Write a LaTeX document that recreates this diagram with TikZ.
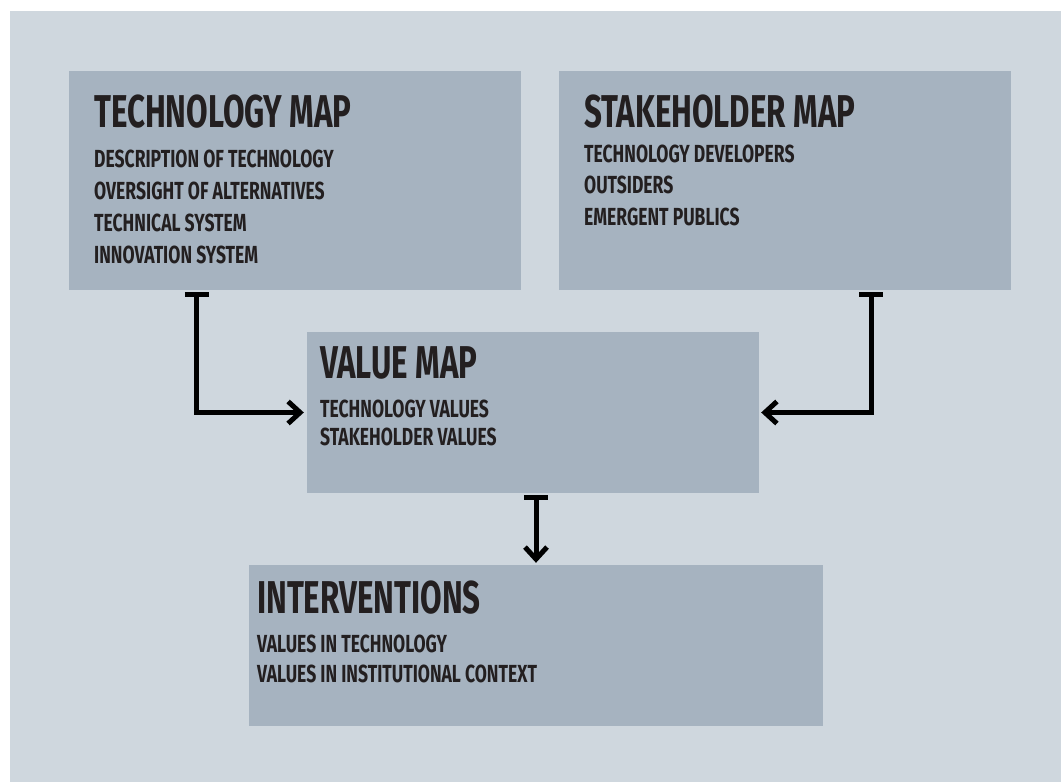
\documentclass[tikz,border=0pt]{standalone}
\usepackage{fontspec}
\usetikzlibrary{arrows.meta}
\newfontfamily\condttl[FakeStretch=0.68]{Fira Sans}
\newfontfamily\conditm[FakeStretch=0.71]{Fira Sans}
\definecolor{bgc}{HTML}{CFD7DE}
\definecolor{boxc}{HTML}{A6B3C0}
\definecolor{txtc}{HTML}{231F20}
\tikzset{
  box/.style={fill=boxc, draw=none, inner sep=0pt},
  ttl/.style={anchor=base west, inner sep=0pt, text=txtc, font=\condttl\bfseries\fontsize{46}{46}\selectfont},
  itm/.style={anchor=base west, inner sep=0pt, text=txtc, font=\conditm\bfseries\fontsize{24.7}{25}\selectfont},
  conn/.style={line width=5pt, draw=black, {Bar[width=24pt]}-{Straight Barb[length=12pt,width=22pt]}}
}
\begin{document}
\begin{tikzpicture}[x=1pt,y=-1pt]
\useasboundingbox (0,0) rectangle (1061,782);
\fill[bgc] (10,11) rectangle (1061,782);
% boxes
\node[box, minimum width=452pt, minimum height=219pt] (tech) at (295,180.5) {};
\node[box, minimum width=452pt, minimum height=219pt] (stake) at (785,180.5) {};
\node[box, minimum width=452pt, minimum height=161pt] (value) at (533,412.5) {};
\node[box, minimum width=574pt, minimum height=161pt] (interv) at (536,645.5) {};
% technology map
\node[ttl] (tt) at (94,127) {TECHNOLOGY MAP};
\node[itm] (t1) at (94,167) {DESCRIPTION OF TECHNOLOGY};
\node[itm] (t2) at (94,199) {OVERSIGHT OF ALTERNATIVES};
\node[itm] (t3) at (94,231) {TECHNICAL SYSTEM};
\node[itm] (t4) at (94,263) {INNOVATION SYSTEM};
% stakeholder map
\node[ttl] (st) at (584,127) {STAKEHOLDER MAP};
\node[itm] (s1) at (584,162) {TECHNOLOGY DEVELOPERS};
\node[itm] (s2) at (584,193) {OUTSIDERS};
\node[itm] (s3) at (584,225) {EMERGENT PUBLICS};
% value map
\node[ttl] (vt) at (320,378) {VALUE MAP};
\node[itm] (v1) at (320,417) {TECHNOLOGY VALUES};
\node[itm] (v2) at (320,445) {STAKEHOLDER VALUES};
% interventions
\node[ttl] (it) at (257,613) {INTERVENTIONS};
\node[itm] (i1) at (257,652) {VALUES IN TECHNOLOGY};
\node[itm] (i2) at (257,682) {VALUES IN INSTITUTIONAL CONTEXT};
% connectors
\draw[conn] ([xshift=128pt,yshift=-2pt]tech.south west) |- ([xshift=-3pt]value.west);
\draw[conn] ([xshift=-140pt,yshift=-2pt]stake.south east) |- ([xshift=2pt]value.east);
\draw[conn] ([yshift=-2pt]interv.north |- value.south) -- ([yshift=2pt]interv.north);
\end{tikzpicture}
\end{document}
